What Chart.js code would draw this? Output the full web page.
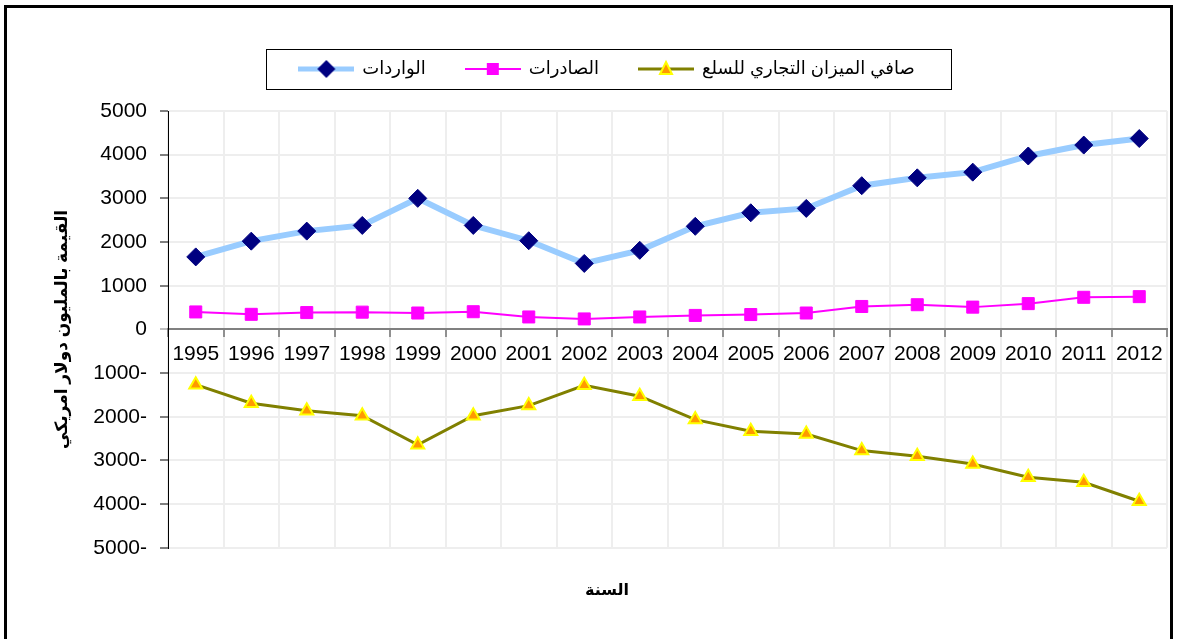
<!DOCTYPE html>
<html>
<head>
<meta charset="utf-8">
<script src="https://cdn.jsdelivr.net/npm/chart.js@4/dist/chart.umd.min.js"></script>
<style>
  body { margin: 0; background: #fff; }
  canvas { display: block; }
</style>
</head>
<body>
<canvas id="tradeChart" width="1177" height="639"></canvas>
<script>
const years = ['1995', '1996', '1997', '1998', '1999', '2000', '2001', '2002', '2003',
  '2004', '2005', '2006', '2007', '2008', '2009', '2010', '2011', '2012'];
const imports = [1660, 2020, 2250, 2380, 3000, 2380, 2030, 1510, 1810,
  2360, 2670, 2770, 3290, 3470, 3600, 3970, 4220, 4370];
const exports = [400, 345, 385, 395, 375, 405, 285, 240, 285,
  320, 340, 375, 525, 565, 510, 590, 735, 750];
const netBalance = [-1265, -1690, -1860, -1975, -2640, -1975, -1745, -1280, -1530,
  -2065, -2330, -2395, -2775, -2905, -3080, -3385, -3500, -3935];

const seriesNames = ['الواردات', 'الصادرات', 'صافي الميزان التجاري للسلع'];
const yTitle = 'القيمة بالمليون دولار امريكي';
const xTitle = 'السنة';

Chart.defaults.font.family = "'Liberation Sans', 'DejaVu Sans', sans-serif";
Chart.defaults.color = '#000';

// small legend icons: a piece of line with the marker in the middle
let makeIcon = (lineColor, lineWidth, drawMarker) => {
  const c = document.createElement('canvas');
  c.width = 56;
  c.height = 20;
  const g = c.getContext('2d');
  g.strokeStyle = lineColor;
  g.lineWidth = lineWidth;
  g.beginPath();
  g.moveTo(0, 10);
  g.lineTo(56, 10);
  g.stroke();
  drawMarker(g);
  return c;
};

const legendIcons = [
  makeIcon('#99ccff', 5, (g) => {
    g.fillStyle = '#000080';
    g.beginPath();
    g.moveTo(19, 10); g.lineTo(28, 1); g.lineTo(37, 10); g.lineTo(28, 19);
    g.closePath();
    g.fill();
  }),
  makeIcon('#ff00ff', 2, (g) => {
    g.fillStyle = '#ff00ff';
    g.fillRect(22, 4, 12, 12);
  }),
  makeIcon('#808000', 3, (g) => {
    g.fillStyle = '#ff9900';
    g.strokeStyle = '#ffff00';
    g.lineWidth = 2;
    g.beginPath();
    g.moveTo(28, 3); g.lineTo(34, 15); g.lineTo(22, 15);
    g.closePath();
    g.fill();
    g.stroke();
  }),
];

// outer frame and the box round the legend
const frameBox = {
  id: 'frameBox',
  beforeInit(chart) {
    const fit = chart.legend.fit;
    chart.legend.fit = function () {
      fit.call(this);
      this.height += 23;
    };
  },
  afterDraw(chart) {
    const ctx = chart.ctx;
    ctx.save();
    ctx.strokeStyle = '#000';
    ctx.lineWidth = 3;
    ctx.strokeRect(5.5, 6.5, 1166, 640);

    const boxes = chart.legend.legendHitBoxes;
    if (boxes && boxes.length) {
      const first = boxes[0];
      const last = boxes[boxes.length - 1];
      const midY = first.top + first.height / 2;
      ctx.lineWidth = 1;
      ctx.strokeStyle = '#000';
      ctx.strokeRect(Math.round(first.left - 33) + 0.5, Math.round(midY - 20) + 0.5,
        Math.round(last.left + last.width + 37 - (first.left - 33)), 40);
    }
    ctx.restore();
  },
};

new Chart(document.getElementById('tradeChart'), {
  type: 'line',
  data: {
    labels: years,
    datasets: [
      {
        label: seriesNames[0],
        data: imports,
        borderColor: '#99ccff',
        borderWidth: 6,
        pointStyle: 'rectRot',
        pointRadius: 9,
        pointBackgroundColor: '#000080',
        pointBorderColor: '#000080',
        pointBorderWidth: 1,
        tension: 0,
      },
      {
        label: seriesNames[1],
        data: exports,
        borderColor: '#ff00ff',
        borderWidth: 2,
        pointStyle: 'rect',
        pointRadius: 8.5,
        pointBackgroundColor: '#ff00ff',
        pointBorderColor: '#ff00ff',
        pointBorderWidth: 1,
        tension: 0,
      },
      {
        label: seriesNames[2],
        data: netBalance,
        borderColor: '#808000',
        borderWidth: 3,
        pointStyle: 'triangle',
        pointRadius: 7.5,
        pointBackgroundColor: '#ff9900',
        pointBorderColor: '#ffff00',
        pointBorderWidth: 2,
        tension: 0,
      },
    ],
  },
  options: {
    responsive: false,
    animation: false,
    devicePixelRatio: 1,
    layout: {
      padding: { top: 20, left: 44, right: 7, bottom: 6 },
    },
    plugins: {
      legend: {
        position: 'top',
        labels: {
          usePointStyle: true,
          pointStyleWidth: 54,
          padding: 40,
          font: { size: 18 },
          color: '#000',
          generateLabels(chart) {
            const items = Chart.defaults.plugins.legend.labels.generateLabels(chart);
            items.forEach((it, i) => { it.pointStyle = legendIcons[i]; });
            return items;
          },
        },
      },
      title: {
        display: true,
        position: 'bottom',
        text: xTitle,
        font: { size: 16, weight: 'bold' },
        color: '#000',
        padding: { top: 33, bottom: 33 },
      },
      tooltip: { enabled: false },
    },
    scales: {
      x: {
        position: { y: 0 },
        offset: true,
        grid: {
          offset: true,
          color: '#eeeeee',
          lineWidth: 2,
          tickColor: '#333',
          tickWidth: 1,
          tickLength: 7,
        },
        border: { color: '#808080', width: 2 },
        ticks: {
          font: { size: 21 },
          color: '#000',
          padding: 5,
          autoSkip: false,
          maxRotation: 0,
        },
      },
      y: {
        min: -5000,
        max: 5000,
        afterFit(scale) {
          scale.width = 124;
        },
        grid: {
          color: (c) => (c.tick && c.tick.value === 0 ? '#808080' : '#eeeeee'),
          lineWidth: (c) => 2,
          tickColor: (c) => (c.tick && c.tick.value === 0 ? '#808080' : '#000'),
          tickWidth: 1,
          tickLength: 8,
        },
        border: { color: '#000', width: 1 },
        ticks: {
          stepSize: 1000,
          font: { size: 21 },
          color: '#000',
          padding: 13,
          callback: (v) => (v < 0 ? Math.abs(v) + '-' : String(v)),
        },
        title: {
          display: true,
          text: yTitle,
          font: { size: 17, weight: 'bold' },
          color: '#000',
          padding: { top: 8, bottom: 0 },
        },
      },
    },
  },
  plugins: [frameBox],
});
</script>
</body>
</html>
